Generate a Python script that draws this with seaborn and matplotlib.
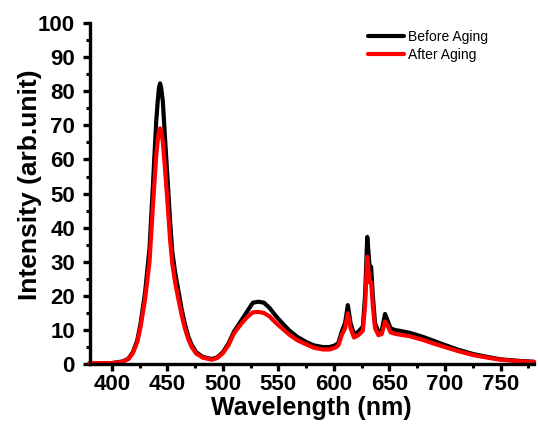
import numpy as np
from matplotlib import pyplot as plt
from matplotlib.ticker import MultipleLocator
import pandas as pd
import seaborn as sns

wavelength = [380, 400, 410, 415, 419, 423, 426, 430, 434, 437, 440, 441.5, 442.5, 443.5, 444.5,
              446, 448, 450.5, 452.5, 454.5, 457, 460, 463, 466, 469, 472, 476, 482, 490, 495,
              500, 505, 510, 513, 517, 522, 527, 532, 537, 542, 548, 555, 560, 567, 575,
              582, 590, 596, 601, 604, 607, 610, 612.5, 615, 618, 622, 626, 628, 630, 632,
              633.5, 635, 637, 640, 643, 646, 648, 651, 655, 660, 668, 680, 690, 700, 712,
              726, 740, 750, 765, 780]

before_aging = [0.3, 0.3, 0.8, 1.6, 3.5, 7, 12, 21, 34, 52, 71, 77.5, 81, 82.3, 81,
                77, 66, 53, 42, 33, 27, 21.5, 16, 11.5, 8, 5.6, 3.5, 2.1, 1.5, 2,
                3.5, 6, 9.5, 11, 13, 15.5, 18, 18.3, 18, 16.5, 14, 11.5, 9.8, 8, 6.5,
                5.5, 5, 5, 5.5, 6.2, 9.5, 12, 17.3, 12, 8.8, 9.5, 11, 20, 37.3, 29,
                28.5, 20, 12, 9.5, 9.8, 14.7, 13, 10.5, 10, 9.7, 9.2, 8, 6.8, 5.6, 4.2,
                2.9, 2, 1.4, 1, 0.7]

after_aging = [0.3, 0.3, 0.7, 1.5, 3.2, 6.5, 11, 19, 30, 46, 61, 66, 68.4, 69.1, 68.4,
               65, 57, 46, 36.5, 29.5, 24, 19, 14.3, 10.3, 7.2, 5, 3.1, 1.9, 1.3, 1.8,
               3.2, 5.5, 9, 10.3, 12, 13.8, 15.2, 15.3, 15, 14, 12, 10, 8.6, 7, 5.8,
               4.8, 4.3, 4.3, 4.8, 5.5, 8.5, 10.5, 14.9, 10.5, 7.8, 8.5, 9.8, 17, 31.5, 24,
               24, 17, 10.5, 8.5, 8.8, 12.5, 11.5, 9.3, 8.9, 8.6, 8.2, 7.1, 6, 5, 3.8,
               2.6, 1.8, 1.3, 0.9, 0.6]

sns.set_style("ticks")
plt.rcParams['font.family'] = ['Liberation Sans', 'DejaVu Sans']
plt.rcParams['text.color'] = 'black'
plt.rcParams['axes.labelcolor'] = 'black'
plt.rcParams['xtick.color'] = 'black'
plt.rcParams['ytick.color'] = 'black'

fig = plt.figure(figsize=(5.38, 4.34), dpi=100)
ax = fig.add_axes([0.1664, 0.161, 0.826, 0.786])

sns.lineplot(x=wavelength, y=before_aging, color="black", linewidth=3,
             label="Before Aging", ax=ax, clip_on=False)
sns.lineplot(x=wavelength, y=after_aging, color="red", linewidth=3,
             label="After Aging", ax=ax, clip_on=False)

ax.set_xlim(380, 780)
ax.set_ylim(0, 100)
ax.xaxis.set_major_locator(MultipleLocator(50))
ax.xaxis.set_minor_locator(MultipleLocator(25))
ax.yaxis.set_major_locator(MultipleLocator(10))
ax.yaxis.set_minor_locator(MultipleLocator(5))

sns.despine(ax=ax)
for s in ["left", "bottom"]:
    ax.spines[s].set_linewidth(2.4)
    ax.spines[s].set_color("black")
ax.tick_params(which="major", length=5, width=2.4, labelsize=16)
ax.tick_params(axis="x", which="major", pad=2)
ax.tick_params(axis="y", which="major", pad=5.5)
ax.tick_params(which="minor", length=3, width=2.2)
for lab in ax.get_xticklabels() + ax.get_yticklabels():
    lab.set_fontweight("bold")

ax.set_xlabel("Wavelength (nm)", fontsize=18, fontweight="bold", labelpad=1)
ax.set_ylabel("Intensity (arb.unit)", fontsize=19, fontweight="bold")
ax.yaxis.set_label_coords(-0.108, 0.526)

ax.legend(loc="upper left", bbox_to_anchor=(0.684, 0.932), bbox_transform=fig.transFigure,
          frameon=False, fontsize=10, handlelength=2.6, handletextpad=0.3,
          borderpad=0, labelspacing=0.3, borderaxespad=0)

plt.savefig("out.png", dpi=100)
